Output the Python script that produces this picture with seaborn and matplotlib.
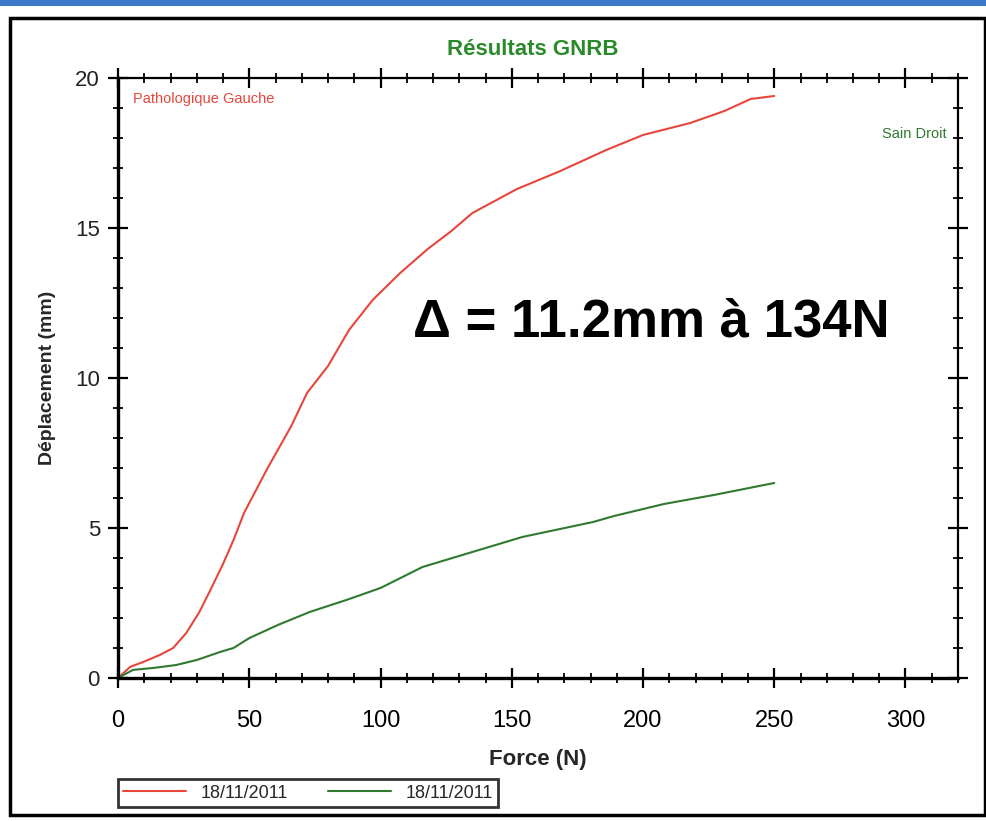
import matplotlib
matplotlib.use("Agg")
import matplotlib.pyplot as plt
from matplotlib.ticker import MultipleLocator
from matplotlib.patches import Rectangle
import seaborn as sns
import pandas as pd

# ---- data ----
red_force = [0, 4.6, 9.5, 16, 21, 26, 31, 35, 40, 44, 48, 54, 57, 66, 72, 80, 88, 97,
             107.5, 118, 127, 135, 152, 168.5, 186, 200, 218, 231, 241, 250]
red_disp = [0, 0.37, 0.53, 0.77, 1.0, 1.5, 2.2, 2.9, 3.8, 4.6, 5.5, 6.5, 7.0, 8.4, 9.5,
            10.4, 11.6, 12.6, 13.5, 14.3, 14.9, 15.5, 16.3, 16.9, 17.6, 18.1, 18.5,
            18.9, 19.3, 19.4]
green_force = [0, 5.7, 13, 22, 30, 39, 44, 50, 61, 73, 87, 100, 116, 135, 154, 181, 189,
               208, 227, 250]
green_disp = [0, 0.27, 0.33, 0.43, 0.6, 0.87, 1.0, 1.33, 1.77, 2.2, 2.6, 3.0, 3.7, 4.2,
              4.7, 5.2, 5.4, 5.8, 6.1, 6.5]
series_names = ["Pathologique Gauche", "Sain Droit"]
legend_labels = ["18/11/2011", "18/11/2011"]
x_ticks = [0, 50, 100, 150, 200, 250, 300]
y_ticks = [0, 5, 10, 15, 20]

RED = "#e8463c"
GREEN = "#2f7a2f"

df = pd.concat([
    pd.DataFrame({"Force": red_force, "Disp": red_disp, "Serie": series_names[0]}),
    pd.DataFrame({"Force": green_force, "Disp": green_disp, "Serie": series_names[1]}),
], ignore_index=True)

sns.set_theme(style="white")
plt.rcParams["font.family"] = ["Liberation Sans", "DejaVu Sans"]

fig = plt.figure(figsize=(9.86, 8.21), dpi=100)
fig.patch.set_facecolor("white")
ax = fig.add_axes([0.1197, 0.1742, 0.8519, 0.7308])

sns.lineplot(data=df, x="Force", y="Disp", hue="Serie", sort=False, estimator=None,
             palette={series_names[0]: RED, series_names[1]: GREEN},
             linewidth=1.5, legend=False, ax=ax)

ax.set_xlim(0, 320)
ax.set_ylim(0, 20)
ax.set_xticks(x_ticks)
ax.set_yticks(y_ticks)
ax.xaxis.set_minor_locator(MultipleLocator(10))
ax.yaxis.set_minor_locator(MultipleLocator(1))
ax.tick_params(which="major", direction="inout", length=14, width=1.6,
               top=True, right=True, bottom=True, left=True, colors="black")
ax.tick_params(which="minor", direction="inout", length=7, width=1.3,
               top=True, right=True, bottom=True, left=True, colors="black")
ax.tick_params(axis="x", which="major", labelsize=17, pad=16)
ax.tick_params(axis="y", which="major", labelsize=16, pad=6)
for lab in ax.get_yticklabels():
    lab.set_color("#222222")

for side in ["left", "bottom"]:
    ax.spines[side].set_linewidth(2.4)
for side in ["top", "right"]:
    ax.spines[side].set_linewidth(1.6)
for s in ax.spines.values():
    s.set_color("black")

ax.set_xlabel("Force (N)", fontsize=16, fontweight="bold", labelpad=12)
ax.set_ylabel("Déplacement (mm)", fontsize=14, fontweight="bold", labelpad=14)

fig.text(0.54, 0.94, "Résultats GNRB", ha="center", va="center", fontsize=16,
         fontweight="bold", color="#2a8a2a")

ax.text(0.018, 0.965, "Pathologique Gauche", transform=ax.transAxes, ha="left",
        va="center", fontsize=10.5, color=RED)
ax.text(0.987, 0.907, "Sain Droit", transform=ax.transAxes, ha="right",
        va="center", fontsize=10.5, color=GREEN)

ax.text(0.635, 0.593, "Δ = 11.2mm à 134N", transform=ax.transAxes, ha="center",
        va="center", fontsize=38, fontweight="bold", color="black")

leg = fig.legend(handles=ax.lines[:2], labels=legend_labels, loc="center",
                 bbox_to_anchor=(0.3125, 0.034), ncol=2, fontsize=13,
                 frameon=True, fancybox=False, edgecolor="black",
                 handlelength=3.5, columnspacing=2.2, borderpad=0.3)
leg.get_frame().set_linewidth(2.0)

# scanned page outer frame and top strip
fig.add_artist(Rectangle((10 / 986, 1 - 815 / 821), 975 / 986, (815 - 18) / 821,
                         transform=fig.transFigure, fill=False, edgecolor="black",
                         linewidth=2.5))
fig.add_artist(Rectangle((0, 1 - 6 / 821), 1, 6 / 821, transform=fig.transFigure,
                         facecolor="#3a78c8", edgecolor="none"))

fig.savefig("out.png", dpi=100)
